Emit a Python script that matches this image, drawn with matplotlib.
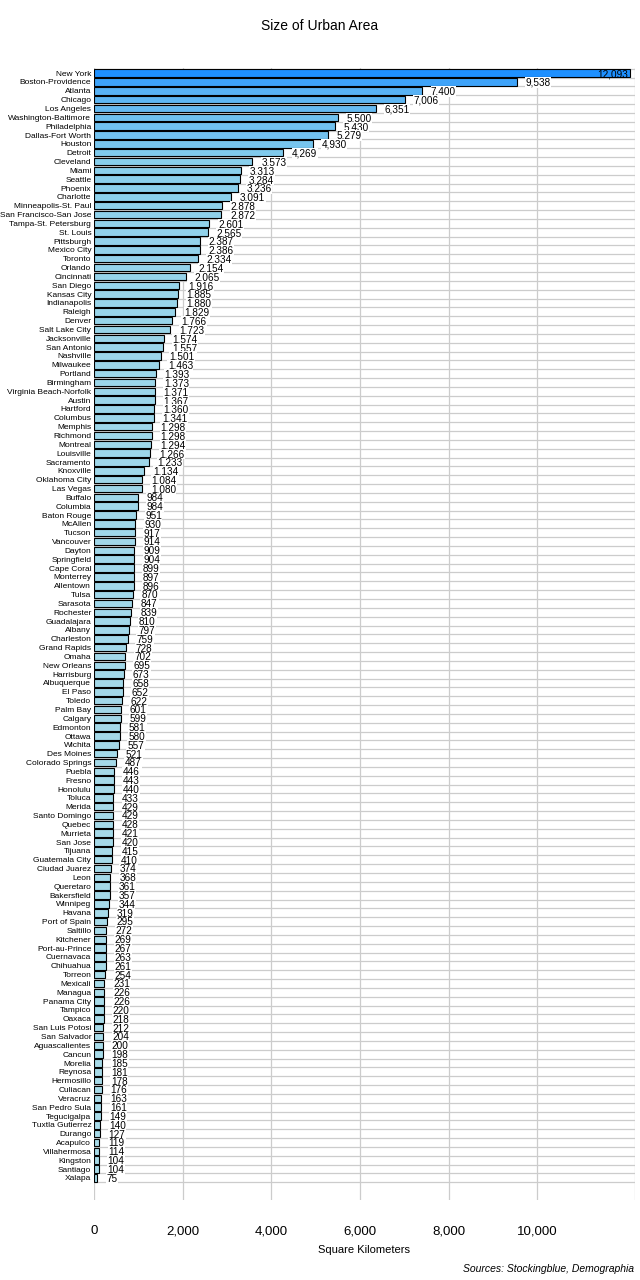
import matplotlib
matplotlib.use("Agg")
import matplotlib.pyplot as plt
import numpy as np
from matplotlib.colors import LinearSegmentedColormap

cities = ["New York","Boston-Providence","Atlanta","Chicago","Los Angeles","Washington-Baltimore","Philadelphia","Dallas-Fort Worth","Houston","Detroit",
"Cleveland","Miami","Seattle","Phoenix","Charlotte","Minneapolis-St. Paul","San Francisco-San Jose","Tampa-St. Petersburg","St. Louis","Pittsburgh",
"Mexico City","Toronto","Orlando","Cincinnati","San Diego","Kansas City","Indianapolis","Raleigh","Denver","Salt Lake City",
"Jacksonville","San Antonio","Nashville","Milwaukee","Portland","Birmingham","Virginia Beach-Norfolk","Austin","Hartford","Columbus",
"Memphis","Richmond","Montreal","Louisville","Sacramento","Knoxville","Oklahoma City","Las Vegas","Buffalo","Columbia",
"Baton Rouge","McAllen","Tucson","Vancouver","Dayton","Springfield","Cape Coral","Monterrey","Allentown","Tulsa",
"Sarasota","Rochester","Guadalajara","Albany","Charleston","Grand Rapids","Omaha","New Orleans","Harrisburg","Albuquerque",
"El Paso","Toledo","Palm Bay","Calgary","Edmonton","Ottawa","Wichita","Des Moines","Colorado Springs","Puebla",
"Fresno","Honolulu","Toluca","Merida","Santo Domingo","Quebec","Murrieta","San Jose","Tijuana","Guatemala City",
"Ciudad Juarez","Leon","Queretaro","Bakersfield","Winnipeg","Havana","Port of Spain","Saltillo","Kitchener","Port-au-Prince",
"Cuernavaca","Chihuahua","Torreon","Mexicali","Managua","Panama City","Tampico","Oaxaca","San Luis Potosi","San Salvador",
"Aguascalientes","Cancun","Morelia","Reynosa","Hermosillo","Culiacan","Veracruz","San Pedro Sula","Tegucigalpa","Tuxtla Gutierrez",
"Durango","Acapulco","Villahermosa","Kingston","Santiago","Xalapa"]
areas = [12093,9538,7400,7006,6351,5500,5430,5279,4930,4269,
3573,3313,3284,3236,3091,2878,2872,2601,2565,2387,
2386,2334,2154,2065,1916,1885,1880,1829,1766,1723,
1574,1557,1501,1463,1393,1373,1371,1367,1360,1341,
1298,1298,1294,1266,1233,1134,1084,1080,984,984,
951,930,917,914,909,904,899,897,896,870,
847,839,810,797,759,728,702,695,673,658,
652,622,601,599,581,580,557,521,487,446,
443,440,433,429,429,428,421,420,415,410,
374,368,361,357,344,319,295,272,269,267,
263,261,254,231,226,226,220,218,212,204,
200,198,185,181,178,176,163,161,149,140,
127,119,114,104,104,75]
xticks = [0,2000,4000,6000,8000,10000]

fig = plt.figure(figsize=(6.4,12.8), dpi=100)
ax = fig.add_axes([0.147,0.0625,0.845,0.8845])
cmap = LinearSegmentedColormap.from_list("b", [(0, "#a8dae8"), (0.3, "#87ceeb"), (1, "#1e90ff")])
vals = np.array(areas, dtype=float)
norm = (vals - vals.min())/(vals.max()-vals.min())
y = np.arange(len(cities))
ax.barh(y, vals, height=0.85, color=cmap(norm), edgecolor="black", linewidth=0.8, zorder=3)
for yi, v in zip(y, vals):
    big = v > 12000
    ax.text(v - 40 if big else v + 200, yi + 0.1, f"{int(v):,}", va="center", ha="right" if big else "left",
            fontsize=7.2, family="Liberation Sans", zorder=4,
            bbox=None if big else dict(facecolor="white", edgecolor="none", pad=0.3))
ax.set_ylim(len(cities)+1.5, -0.6)
ax.set_xlim(0, 12200)
ax.set_yticks(y)
ax.set_yticklabels(cities, fontsize=6, family="Liberation Sans")
ax.set_xticks(xticks)
ax.set_xticklabels([f"{t:,}" for t in xticks], fontsize=9.5, family="Liberation Sans")
ax.tick_params(axis="x", length=0, pad=18)
ax.tick_params(axis="y", length=0, pad=2)
for yi in y:
    ax.axhline(yi+0.5, color="#cccccc", linewidth=0.9, zorder=1)
ax.axhline(-0.5, color="#cccccc", linewidth=0.9, zorder=1)
for t in xticks + [12200]:
    ax.axvline(t, color="#cccccc", linewidth=0.9, zorder=1)
for s in ax.spines.values():
    s.set_visible(False)
ax.set_xlabel("Square Kilometers", fontsize=8, family="Liberation Sans", labelpad=6)
fig.text(0.5, 0.985, "Size of Urban Area", ha="center", va="top", fontsize=10, family="Liberation Sans")
fig.text(0.99, 0.005, "Sources: Stockingblue, Demographia", ha="right", va="bottom", fontsize=7.5, style="italic", family="Liberation Sans")
fig.savefig("out.png", dpi=100)
